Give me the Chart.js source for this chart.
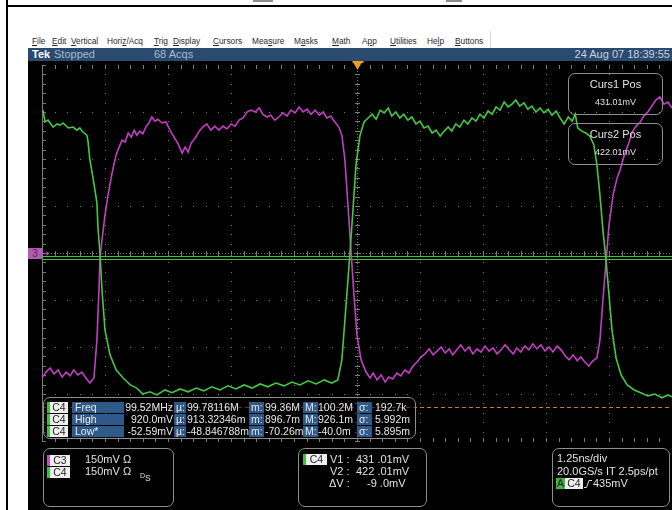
<!DOCTYPE html>
<html>
<head>
<meta charset="utf-8">
<title>DSO capture</title>
<script src="https://cdn.jsdelivr.net/npm/chart.js@4.4.1/dist/chart.umd.min.js"></script>
<style>
  html, body { margin: 0; padding: 0; background: #fff; }
  #page { position: relative; width: 672px; height: 510px; overflow: hidden; font-family: "Liberation Sans", Arial, sans-serif; }
  .abs { position: absolute; white-space: nowrap; }
  #frame-top { left: 6px; top: 5px; width: 666px; height: 2px; background: #000; }
  #frame-left { left: 6px; top: 0; width: 2px; height: 510px; background: #000; }
  .nub { top: 0; height: 2px; background: #8c8c8c; }
  #menu span { position: absolute; top: 36px; font-size: 8.3px; line-height: 10px; color: #2a2a2a; white-space: nowrap; }
  #menu-sep { left: 490px; top: 31px; width: 1px; height: 17px; background: #d4d4d4; }
  #status { left: 28px; top: 48px; width: 644px; height: 13px; background: #2a4b6f; font-size: 11px; line-height: 13px; color: #a7bace; }
  #status span { position: absolute; top: 0; white-space: nowrap; }
  #screen { left: 28px; top: 61px; width: 644px; height: 449px; background: #000; }
  #scope-chart { position: absolute; left: 0; top: 0; }
  .box { position: absolute; border: 1.5px solid #8e8e8e; border-radius: 7px; box-sizing: border-box; }
  .t { position: absolute; white-space: nowrap; color: #e2e2e2; }
  .m { position: absolute; height: 11px; line-height: 11px; font-size: 10.5px; color: #e8e8e8; white-space: nowrap; box-sizing: border-box; }
  .blue { background: #2d5a88; padding-left: 2px; }
  .chip { background: #efefef; color: #1e1e1e; text-align: center; }
  .gbar { background: #3cc03c; width: 3px; }
  .mbar { background: #c24ec2; width: 3px; }
  #ch3 { left: 28px; top: 248px; width: 14px; height: 11px; background: #b05cb0; color: #5e265e; font-size: 10px; line-height: 11px; text-align: center; }
</style>
</head>
<body>
<div id="page">
  <div class="abs" id="frame-top"></div>
  <div class="abs" id="frame-left"></div>
  <div class="abs nub" style="left:253px;width:20px"></div>
  <div class="abs nub" style="left:446px;width:16px"></div>

  <div id="menu">
    <span style="left:32px"><u>F</u>ile</span>
    <span style="left:52px"><u>E</u>dit</span>
    <span style="left:71px"><u>V</u>ertical</span>
    <span style="left:107px">Hori<u>z</u>/Acq</span>
    <span style="left:154px"><u>T</u>rig</span>
    <span style="left:173px"><u>D</u>isplay</span>
    <span style="left:213px"><u>C</u>ursors</span>
    <span style="left:252px">Mea<u>s</u>ure</span>
    <span style="left:294px">M<u>a</u>sks</span>
    <span style="left:332px"><u>M</u>ath</span>
    <span style="left:362px">A<u>p</u>p</span>
    <span style="left:390px"><u>U</u>tilities</span>
    <span style="left:427px">He<u>l</u>p</span>
    <span style="left:455px"><u>B</u>uttons</span>
  </div>
  <div class="abs" id="menu-sep"></div>

  <div class="abs" id="status">
    <span style="left:4px;color:#fff;font-weight:bold">Tek</span>
    <span style="left:26px">Stopped</span>
    <span style="left:126px">68 Acqs</span>
    <span style="right:2px;color:#c5d2df">24 Aug 07 18:39:55</span>
  </div>

  <div class="abs" id="screen"></div>
  <canvas id="scope-chart" width="672" height="510"></canvas>

  <div class="abs" id="ch3">3</div>

  <!-- cursor readouts -->
  <div class="box" style="left:568px;top:73px;width:95px;height:42px"></div>
  <div class="t" style="left:568px;top:78px;width:95px;text-align:center;font-size:11px">Curs1 Pos</div>
  <div class="t" style="left:568px;top:97px;width:95px;text-align:center;font-size:9px">431.01mV</div>
  <div class="box" style="left:568px;top:123px;width:95px;height:42px"></div>
  <div class="t" style="left:568px;top:128px;width:95px;text-align:center;font-size:11px">Curs2 Pos</div>
  <div class="t" style="left:568px;top:147px;width:95px;text-align:center;font-size:9px">422.01mV</div>

  <!-- measurement table -->
  <div class="box" id="meas-box" style="left:43px;top:397px;width:373px;height:42px;background:rgba(0,0,0,0.55)"></div>
  <div id="meas"></div>

  <!-- channel settings -->
  <div class="box" style="left:43px;top:448px;width:131px;height:59px"></div>
  <div class="m mbar" style="left:47px;top:455px"></div>
  <div class="m chip" style="left:50px;top:455px;width:20px">C3</div>
  <div class="t" style="left:85px;top:453px;font-size:11px">150mV Ω</div>
  <div class="m gbar" style="left:47px;top:467px"></div>
  <div class="m chip" style="left:50px;top:467px;width:20px">C4</div>
  <div class="t" style="left:85px;top:465px;font-size:11px">150mV Ω</div>
  <div class="t" style="left:140px;top:467px"><span style="font-size:7px;vertical-align:3px">D</span><span style="font-size:8.5px">S</span></div>

  <!-- cursor values -->
  <div class="box" style="left:298px;top:448px;width:129px;height:59px"></div>
  <div class="m gbar" style="left:303px;top:454px"></div>
  <div class="m chip" style="left:306px;top:454px;width:21px">C4</div>
  <div class="t" style="left:330px;top:453px;font-size:11px">V1 :</div>
  <div class="t" style="left:356px;top:453px;font-size:11px">431 .01mV</div>
  <div class="t" style="left:330px;top:465px;font-size:11px">V2 :</div>
  <div class="t" style="left:356px;top:465px;font-size:11px">422 .01mV</div>
  <div class="t" style="left:329px;top:477px;font-size:11px">ΔV :</div>
  <div class="t" style="left:367px;top:477px;font-size:11px">-9 .0mV</div>

  <!-- timebase / trigger -->
  <div class="box" style="left:552px;top:448px;width:118px;height:59px"></div>
  <div class="t" style="left:557px;top:452px;font-size:11px">1.25ns/div</div>
  <div class="t" style="left:557px;top:465px;font-size:11px">20.0GS/s IT 2.5ps/pt</div>
  <div class="m" style="left:556px;top:478px;width:9px;background:#3cb83c;color:#111;text-align:center">A</div>
  <div class="m chip" style="left:565px;top:478px;width:18px">C4</div>
  <svg class="abs" style="left:584px;top:479px" width="8" height="10"><polyline points="0,8.5 2.5,8.5 5,1.5 8,1.5" fill="none" stroke="#e2e2e2" stroke-width="1"/></svg>
  <div class="t" style="left:593px;top:477px;font-size:11px">435mV</div>
</div>

<script>
// acquisition: 1.25 ns/div, 150 mV/div, 10 x 8 divisions
const nsPerDiv = 1.25;
const mvPerDiv = 150;
const mvMin = -160;
const mvMax = 1040;

// C4 (green) samples
const c4TimeNs = [
  0.02, 0.06, 0.12, 0.22, 0.30, 0.36, 0.42, 0.52, 0.62, 0.69, 0.75, 0.81, 0.89, 0.91, 0.95,
  1.01, 1.09, 1.11, 1.15, 1.19, 1.25, 1.35, 1.47, 1.61, 1.75, 1.88,
  2.00, 2.14, 2.28, 2.44, 2.58, 2.74, 2.90, 3.06, 3.21, 3.37, 3.53, 3.69, 3.85,
  4.01, 4.17, 4.33, 4.48, 4.64, 4.80, 4.96, 5.12, 5.28, 5.44, 5.60, 5.75, 5.87, 5.95,
  6.01, 6.07, 6.11, 6.17, 6.23, 6.31, 6.39, 6.47, 6.55, 6.63, 6.71, 6.79, 6.87, 6.94,
  7.02, 7.10, 7.18, 7.26, 7.34, 7.42, 7.50, 7.58, 7.66, 7.74, 7.82, 7.90, 7.98,
  8.06, 8.13, 8.21, 8.29, 8.37, 8.45, 8.53, 8.61, 8.69, 8.77, 8.85, 8.93,
  9.01, 9.09, 9.17, 9.25, 9.33, 9.40, 9.48, 9.56, 9.64, 9.72, 9.80, 9.88, 9.96,
  10.04, 10.12, 10.20, 10.28, 10.36, 10.44, 10.52, 10.58, 10.63, 10.71, 10.79, 10.87, 10.95,
  11.01, 11.07, 11.13, 11.19, 11.25, 11.31, 11.39, 11.49, 11.61, 11.75, 11.88,
  12.02, 12.16, 12.30, 12.42, 12.50
];
const c4Mv = [
  896, 858, 864, 842, 852, 848, 855, 839, 842, 832, 839, 826, 816, 800, 737,
  682, 600, 523, 440, 322, 194, 115, 67, 41, 19, 9,
  -10, -3, -13, 3, -6, 6, -3, 9, 0, 13, 3, 16, 6,
  19, 9, 22, 13, 25, 16, 28, 19, 32, 22, 35, 25, 35, 99,
  226, 354, 440, 577, 721, 816, 858, 871, 883, 867, 896, 887, 903, 877,
  890, 871, 883, 864, 874, 852, 861, 839, 845, 823, 832, 813, 829,
  842, 829, 852, 842, 864, 852, 871, 861, 883, 871, 893, 883,
  906, 896, 922, 906, 916, 928, 909, 919, 899, 909, 890, 903, 887,
  899, 880, 893, 871, 852, 874, 861, 883, 839, 829, 823, 813, 785,
  721, 625, 513, 418, 306, 194, 105, 51, 19, 3, -6,
  -16, -10, -22, -13, -19
];

// C3 (magenta) samples
const c3TimeNs = [
  0.00, 0.08, 0.16, 0.24, 0.32, 0.40, 0.48, 0.56, 0.63, 0.71, 0.79, 0.87, 0.95,
  1.03, 1.09, 1.13, 1.15, 1.19, 1.25, 1.31, 1.39, 1.47, 1.53, 1.59, 1.65, 1.71, 1.77, 1.83, 1.88, 1.94,
  2.00, 2.06, 2.12, 2.18, 2.24, 2.30, 2.38, 2.46, 2.54, 2.62, 2.70, 2.78, 2.84, 2.90, 2.96,
  3.04, 3.12, 3.19, 3.27, 3.35, 3.43, 3.51, 3.59, 3.67, 3.75, 3.83, 3.91, 3.99,
  4.07, 4.15, 4.23, 4.31, 4.38, 4.46, 4.54, 4.62, 4.70, 4.78, 4.86, 4.94,
  5.02, 5.10, 5.18, 5.26, 5.34, 5.42, 5.50, 5.58, 5.65, 5.73, 5.81, 5.89, 5.95,
  6.01, 6.07, 6.13, 6.19, 6.25, 6.33, 6.43, 6.51, 6.57, 6.65, 6.73, 6.81, 6.88, 6.96,
  7.04, 7.12, 7.20, 7.28, 7.36, 7.44, 7.52, 7.60, 7.68, 7.76, 7.84, 7.92,
  8.00, 8.08, 8.15, 8.23, 8.31, 8.39, 8.47, 8.55, 8.63, 8.71, 8.79, 8.87, 8.95,
  9.03, 9.11, 9.19, 9.27, 9.35, 9.42, 9.50, 9.58, 9.66, 9.74, 9.82, 9.90, 9.98,
  10.06, 10.14, 10.22, 10.30, 10.38, 10.46, 10.54, 10.62, 10.69, 10.77, 10.85, 10.93,
  11.01, 11.07, 11.13, 11.19, 11.25, 11.33, 11.41, 11.47, 11.55, 11.63, 11.71, 11.79, 11.87, 11.94,
  12.02, 12.10, 12.18, 12.26, 12.34, 12.42, 12.50
];
const c3Mv = [
  41, 60, 73, 54, 67, 44, 60, 48, 67, 51, 60, 41, 25,
  41, 162, 322, 424, 481, 561, 625, 695, 753, 778, 800, 794, 823, 810, 832, 816, 829,
  820, 842, 855, 874, 861, 867, 855, 858, 832, 810, 788, 759, 778, 762, 791,
  807, 829, 842, 852, 832, 845, 832, 845, 836, 852, 845, 864, 871,
  890, 896, 890, 903, 883, 874, 880, 864, 874, 887, 877, 896,
  887, 906, 890, 899, 883, 896, 880, 890, 871, 877, 858, 842, 816,
  737, 593, 450, 306, 178, 99, 60, 41, 57, 35, 51, 28, 44, 38,
  57, 48, 67, 57, 79, 92, 108, 118, 134, 115, 127, 140,
  121, 134, 115, 131, 147, 127, 140, 118, 134, 124, 143, 127, 137,
  118, 131, 147, 131, 118, 137, 124, 143, 131, 150, 134, 147, 127,
  140, 124, 143, 131, 112, 99, 115, 96, 108, 92, 79, 96,
  105, 162, 290, 411, 529, 625, 679, 705, 750, 785, 826, 845, 858, 877,
  890, 909, 928, 938, 915, 922, 903
];

// cursors, reference levels and trigger
const cursorMv = [431.01, 422.01];
const lowRefMv = -52.59;
const c3RefMv = 440;
const triggerNs = 6.25;

// measurement readouts: label, value, mean, min, max, std dev
const measRows = [
  ['Freq', '99.52MHz', '99.78116M', '99.36M', '100.2M', '192.7k'],
  ['High', '920.0mV', '913.32346m', '896.7m', '926.1m', '5.992m'],
  ['Low*', '-52.59mV', '-48.846788m', '-70.26m', '-40.0m', '5.895m']
];

const meas = document.getElementById('meas');
function cell(cls, left, top, width, text, extra) {
  const d = document.createElement('div');
  d.className = 'm ' + cls;
  d.style.left = left + 'px';
  d.style.top = top + 'px';
  if (width) d.style.width = width + 'px';
  if (extra) Object.assign(d.style, extra);
  d.textContent = text;
  meas.appendChild(d);
}
measRows.forEach((r, i) => {
  const top = 402 + i * 12;
  cell('gbar', 47, top, 0, '');
  cell('chip', 50, top, 18, 'C4');
  cell('blue', 72, top, 52, r[0], { paddingLeft: '3px' });
  cell('', 121, top, 52, r[1], { textAlign: 'right' });
  cell('blue', 174, top, 12, 'µ:');
  cell('', 187, top, 0, r[2]);
  cell('blue', 249, top, 15, 'm:');
  cell('', 265, top, 0, r[3]);
  cell('blue', 303, top, 15, 'M:');
  cell('', 318, top, 0, r[4]);
  cell('blue', 357, top, 15, 'σ:');
  cell('', 375, top, 0, r[5]);
});

// graticule: dotted divisions, ticked centre axes and edges
const graticule = {
  id: 'graticule',
  beforeDatasetsDraw(chart) {
    const { ctx, chartArea: a, scales: { x, y } } = chart;
    const xs = [], ys = [];
    for (let i = 0; i <= 50; i++) xs.push(Math.round(x.getPixelForValue(i * nsPerDiv / 5)));
    for (let j = 0; j <= 40; j++) ys.push(Math.round(y.getPixelForValue(mvMin + j * mvPerDiv / 5)));
    const left = xs[0], right = xs[50], top = ys[40], bottom = ys[0];
    const cx = xs[25], cy = ys[20];
    ctx.save();
    ctx.fillStyle = '#7c7c7c';
    for (let i = 5; i < 50; i += 5) {
      if (i === 25) continue;
      ys.forEach(py => ctx.fillRect(xs[i], py, 1, 1));
    }
    for (let j = 5; j < 40; j += 5) {
      if (j === 20) continue;
      xs.forEach(px => ctx.fillRect(px, ys[j], 1, 1));
    }
    for (let px = left; px < right; px += 3) ctx.fillRect(px, cy, 1, 1);
    for (let py = top; py < bottom; py += 3) ctx.fillRect(cx, py, 1, 1);
    xs.forEach(px => ctx.fillRect(px, cy - 2, 1, 5));
    ys.forEach(py => ctx.fillRect(cx - 2, py, 5, 1));
    ctx.fillRect(left, top, 1, bottom - top + 1);
    ys.forEach(py => ctx.fillRect(left, py, 4, 1));
    xs.forEach(px => {
      ctx.fillRect(px, top, 1, 4);
      ctx.fillRect(px, bottom - 3, 1, 4);
    });

    // C4 cursors
    ctx.strokeStyle = '#3fc43f';
    ctx.lineWidth = 1;
    cursorMv.forEach(v => {
      const py = Math.round(y.getPixelForValue(v)) + 0.5;
      ctx.beginPath();
      ctx.moveTo(a.left, py);
      ctx.lineTo(a.right, py);
      ctx.stroke();
    });

    // low reference level
    const ly = Math.round(y.getPixelForValue(lowRefMv)) + 0.5;
    ctx.strokeStyle = '#cf7d22';
    ctx.setLineDash([4, 3]);
    ctx.beginPath();
    ctx.moveTo(a.left, ly);
    ctx.lineTo(a.right, ly);
    ctx.stroke();
    ctx.restore();
  },
  afterDatasetsDraw(chart) {
    const { ctx, chartArea: a, scales: { x, y } } = chart;
    ctx.save();
    // trigger position
    const tx = Math.round(x.getPixelForValue(triggerNs)) + 0.5;
    ctx.fillStyle = '#f09a2a';
    ctx.fillRect(tx - 5, a.top - 4, 11, 2);
    ctx.beginPath();
    ctx.moveTo(tx - 4, a.top - 2);
    ctx.lineTo(tx + 4, a.top - 2);
    ctx.lineTo(tx, a.top + 5);
    ctx.closePath();
    ctx.fill();
    // C3 offset arrow
    const gy = Math.round(y.getPixelForValue(c3RefMv)) + 0.5;
    ctx.strokeStyle = '#c043c0';
    ctx.beginPath();
    ctx.moveTo(a.left, gy);
    ctx.lineTo(a.left + 7, gy);
    ctx.moveTo(a.left + 4, gy - 2);
    ctx.lineTo(a.left + 7, gy);
    ctx.lineTo(a.left + 4, gy + 2);
    ctx.stroke();
    ctx.restore();
  }
};

new Chart(document.getElementById('scope-chart').getContext('2d'), {
  type: 'line',
  data: {
    datasets: [{
      label: 'C4',
      data: c4TimeNs.map((t, i) => ({ x: t, y: c4Mv[i] })),
      borderColor: '#46c846',
      borderWidth: 1.6,
      pointRadius: 0,
      tension: 0,
    },
    {
      label: 'C3',
      data: c3TimeNs.map((t, i) => ({ x: t, y: c3Mv[i] })),
      borderColor: '#c23fc2',
      borderWidth: 1.6,
      pointRadius: 0,
      tension: 0,
    }]
  },
  options: {
    responsive: false,
    animation: false,
    events: [],
    layout: { padding: { left: 42, top: 65, right: 0, bottom: 69 } },
    scales: {
      x: { type: 'linear', min: 0, max: nsPerDiv * 10, display: false },
      y: { type: 'linear', min: mvMin, max: mvMax, display: false }
    },
    plugins: {
      legend: { display: false },
      tooltip: { enabled: false }
    }
  },
  plugins: [graticule]
});
</script>
</body>
</html>
